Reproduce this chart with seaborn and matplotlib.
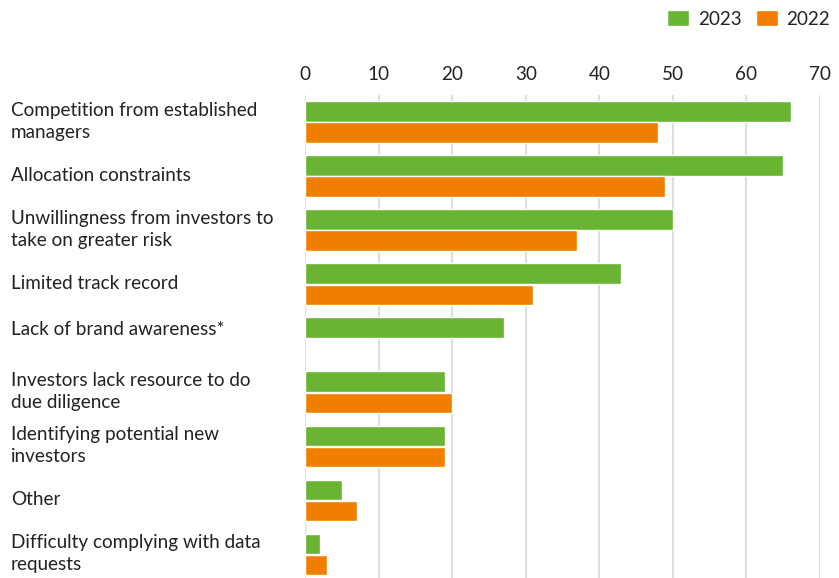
import numpy as np
import pandas as pd
import matplotlib
matplotlib.use("Agg")
import matplotlib.pyplot as plt
import matplotlib.transforms as mtransforms
import seaborn as sns
from matplotlib.patches import Patch

categories = [
    "Competition from established\nmanagers",
    "Allocation constraints",
    "Unwillingness from investors to\ntake on greater risk",
    "Limited track record",
    "Lack of brand awareness*",
    "Investors lack resource to do\ndue diligence",
    "Identifying potential new\ninvestors",
    "Other",
    "Difficulty complying with data\nrequests",
]
values_2023 = [66, 65, 50, 43, 27, 19, 19, 5, 2]
values_2022 = [48, 49, 37, 31, np.nan, 20, 19, 7, 3]
years = ["2023", "2022"]
x_ticks = [0, 10, 20, 30, 40, 50, 60, 70]

GREEN = "#69b432"
ORANGE = "#f07f00"
TEXT = "#222222"
FS = 13.6

df = pd.DataFrame({
    "category": categories * 2,
    "year": [years[0]] * len(categories) + [years[1]] * len(categories),
    "value": list(values_2023) + list(values_2022),
})

sns.set_theme(style="white")
plt.rcParams["font.family"] = ["Lato", "DejaVu Sans"]

W, H = 839, 578
fig = plt.figure(figsize=(W / 100, H / 100), dpi=100)
ax = fig.add_axes([305 / W, 0, (820 - 305) / W, (578 - 95) / H])

sns.barplot(
    data=df, y="category", x="value", hue="year", order=categories,
    hue_order=years, palette=[GREEN, ORANGE], orient="h",
    width=0.78, gap=0.04, ax=ax, legend=False, saturation=1, zorder=3,
)

ax.set_xlim(0, 70)
ax.set_ylim(8.44, -0.5)
ax.set_xticks(x_ticks)
ax.xaxis.tick_top()
ax.tick_params(axis="x", length=0, pad=9, labelsize=FS, labelcolor=TEXT)
ax.tick_params(axis="y", length=0, pad=294 * 0.72, labelsize=FS, labelcolor=TEXT)


def shift_up(label, px):
    label.set_transform(label.get_transform() +
                        mtransforms.ScaledTranslation(0, px / 100, fig.dpi_scale_trans))


for lbl in ax.get_yticklabels():
    lbl.set_horizontalalignment("left")
    lbl.set_linespacing(1.38)
    text = lbl.get_text()
    if text.startswith("Lack of brand"):
        # single-series row: align the label with its only bar
        shift_up(lbl, 10)
    elif "\n" in text:
        shift_up(lbl, 5)
    else:
        shift_up(lbl, 2)
ax.grid(axis="x", color="#dedede", linewidth=1.5, zorder=0)
ax.set_axisbelow(True)
for s in ax.spines.values():
    s.set_visible(False)
ax.set_xlabel("")
ax.set_ylabel("")

handles = [Patch(facecolor=GREEN, label=years[0]), Patch(facecolor=ORANGE, label=years[1])]
fig.legend(
    handles=handles, loc="upper right", bbox_to_anchor=(830 / W, 1 - 10 / H), ncol=2,
    frameon=False, fontsize=FS, handlelength=1.17, handleheight=0.95,
    handletextpad=0.45, columnspacing=0.75, labelcolor=TEXT,
    borderpad=0, borderaxespad=0,
)

fig.savefig("out.png", dpi=100)
